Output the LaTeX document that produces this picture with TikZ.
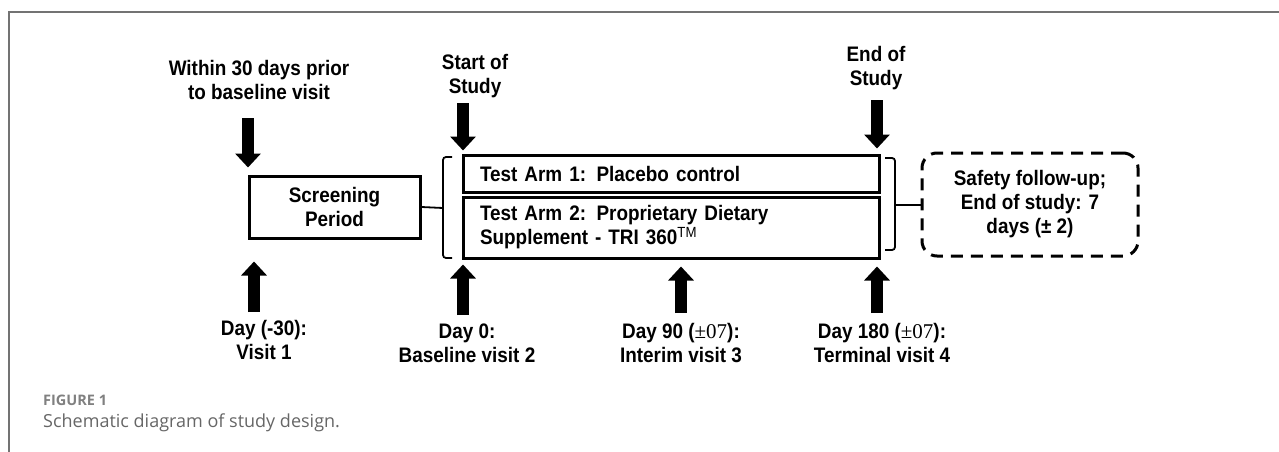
\documentclass[tikz,border=0pt]{standalone}
\usepackage{fontspec}
\setmainfont{Liberation Sans}
\newfontfamily\diagfont{Liberation Sans}[FakeStretch=0.9]
\newfontfamily\capfont{Open Sans}
\newfontfamily\numfont{Liberation Serif}
\usetikzlibrary{arrows.meta}

\tikzset{
    lbl/.style={font=\diagfont\fontsize{21}{24}\selectfont\bfseries, align=center, inner sep=0pt},
    stagebox/.style={draw, line width=3pt, inner sep=0pt},
    armbox/.style={stagebox, minimum width=416pt, text width=382pt, align=left,
        font=\diagfont\fontsize{21}{24}\selectfont\bfseries},
    bigarrow/.style={line width=12.5pt, -{Triangle[width=25pt,length=14pt]}},
    brace/.style={line width=1.8pt, rounded corners=3pt},
    frameline/.style={line width=1.5pt, black!55},
}

\begin{document}
\begin{tikzpicture}[x=1pt, y=-1pt]
    \useasboundingbox (0,0) rectangle (1279,452);
    \draw[frameline] (1279,12) -- (9,12) -- (9,452);

    \node[stagebox, minimum width=171pt, minimum height=62pt, lbl] (screen) at (334.5,207) {Screening\\Period};
    \node[armbox, minimum height=37pt] (arm1) at (671,173.5) {Test Arm 1: Placebo control};
    \node[armbox, minimum height=61pt] (arm2) at (671,227.5) {Test Arm 2: Proprietary Dietary\\Supplement - TRI 360\textsuperscript{\mdseries TM}};
    \node[draw, line width=3pt, dash pattern=on 12pt off 8pt, rounded corners=15pt,
        minimum width=216pt, minimum height=103pt, lbl] (safety) at (1030,204.5)
        {Safety follow-up;\\End of study: 7\\days (\textpm\ 2)};

    \node[lbl] (within) at (259,80) {Within 30 days prior\\to baseline visit};
    \node[lbl] (start) at (475,76) {Start of\\Study};
    \node[lbl] (endst) at (876,68) {End of\\Study};
    \node[lbl] (day30) at (264,340) {Day (-30):\\Visit 1};
    \node[lbl] (day0) at (467,343) {Day 0:\\Baseline visit 2};
    \node[lbl] (day90) at (681,343) {Day 90 ({\numfont\mdseries\textpm07}):\\Interim visit 3};
    \node[lbl] (day180) at (882,343) {Day 180 ({\numfont\mdseries\textpm07}):\\Terminal visit 4};

    \node[anchor=west, inner sep=0pt, font=\capfont\bfseries\fontsize{14.5}{17}\selectfont, text=black!50] (fig) at (43,400) {FIGURE 1};
    \node[anchor=west, inner sep=0pt, font=\capfont\fontsize{18}{21}\selectfont, text=black!60] (cap) at (43,423) {Schematic diagram of study design.};

    \coordinate (w1) at (248,118);
    \coordinate (v1) at (254,312);
    \coordinate (s1) at (463,103);
    \coordinate (e1) at (877,100);
    \coordinate (v2) at (463,315);
    \coordinate (v3) at (681,313);
    \coordinate (v4) at (877,313);
    \draw[bigarrow, shorten >=7pt] (w1) -- (w1 |- screen.north);
    \draw[bigarrow, shorten >=22pt] (v1) -- (v1 |- screen.south);
    \draw[bigarrow, shorten >=3pt] (s1) -- (s1 |- arm1.north);
    \draw[bigarrow, shorten >=5pt] (e1) -- (e1 |- arm1.north);
    \draw[bigarrow, shorten >=5pt] (v2) -- (v2 |- arm2.south);
    \draw[bigarrow, shorten >=7pt] (v3) -- (v3 |- arm2.south);
    \draw[bigarrow, shorten >=7pt] (v4) -- (v4 |- arm2.south);

    \coordinate (lbr) at (443,208);
    \coordinate (rbr) at (895,205);
    \draw[brace] (452,157) -- (443,157) -- (443,258) -- (452,258);
    \draw[brace] (885,158) -- (895,158) -- (895,250) -- (885,250);
    \draw[line width=1.8pt] (screen.east) -- (lbr);
    \draw[line width=1.8pt] (rbr) -- (safety.west |- rbr);
\end{tikzpicture}
\end{document}
